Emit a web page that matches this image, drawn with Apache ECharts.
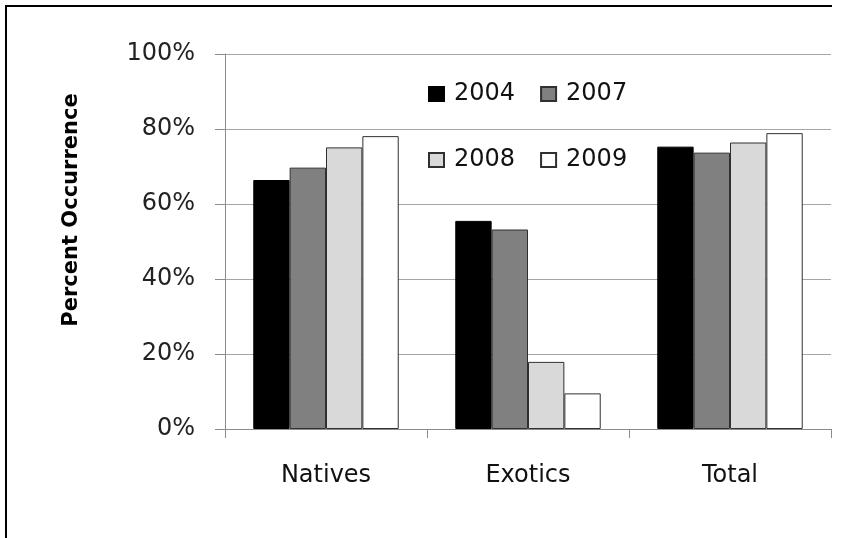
<!DOCTYPE html>
<html><head><meta charset="utf-8">
<script src="https://cdn.jsdelivr.net/npm/echarts@6/dist/echarts.min.js"></script>
<style>html,body{margin:0;padding:0;background:#fff}#c{width:849px;height:538px}</style>
</head><body><div id="c"></div>
<script>
const categories = ['Natives', 'Exotics', 'Total'];
const years = ['2004', '2007', '2008', '2009'];
const v2004 = [66.4, 55.5, 75.3];
const v2007 = [69.7, 53.2, 73.7];
const v2008 = [75.1, 17.9, 76.4];
const v2009 = [78.1, 9.5, 78.9];
const yTicks = [0, 20, 40, 60, 80, 100];
const yTitle = 'Percent Occurrence';
const colors = ['#000000', '#808080', '#d9d9d9', '#ffffff'];
const values = [v2004, v2007, v2008, v2009];
const FONT = 'DejaVu Sans';

const chart = echarts.init(document.getElementById('c'), null, {renderer: 'canvas'});
const series = years.map((y, i) => ({
  name: y, type: 'bar', data: values[i],
  barGap: '0%', barCategoryGap: '28%',
  itemStyle: {color: colors[i], borderColor: i === 0 ? '#000' : '#303030', borderWidth: 1}
}));
const legendCommon = {
  left: 423, itemWidth: 15, itemHeight: 14, itemGap: 25, icon: 'rect',
  textStyle: {fontFamily: FONT, fontSize: 24, color: '#111', padding: [0, 0, 0, 5]},
  selectedMode: false
};
chart.setOption({
  animation: false,
  textStyle: {fontFamily: FONT},
  grid: {left: 225, right: 18, top: 54, bottom: 109},
  legend: [
    Object.assign({}, legendCommon, {top: 77, data: [years[0], years[1]]}),
    Object.assign({}, legendCommon, {top: 143, data: [years[2], years[3]]})
  ],
  xAxis: {
    type: 'category', data: categories,
    axisLine: {lineStyle: {color: '#8c8c8c', width: 1}},
    axisTick: {show: true, length: 9, lineStyle: {color: '#8c8c8c'}},
    axisLabel: {fontFamily: FONT, fontSize: 24, color: '#111', margin: 35}
  },
  yAxis: {
    type: 'value', min: yTicks[0], max: yTicks[yTicks.length - 1], interval: 20,
    axisLine: {show: true, lineStyle: {color: '#8c8c8c'}},
    axisTick: {show: true, inside: false, length: 10, lineStyle: {color: '#8c8c8c'}},
    axisLabel: {fontFamily: FONT, fontSize: 24, color: '#222', margin: 30, formatter: v => v + '%'},
    splitLine: {lineStyle: {color: '#a6a6a6', width: 1}}
  },
  series: series,
  graphic: [
    {type: 'line', shape: {x1: 6, y1: 6, x2: 832, y2: 6}, style: {stroke: '#000', lineWidth: 2}},
    {type: 'line', shape: {x1: 6, y1: 5, x2: 6, y2: 538}, style: {stroke: '#000', lineWidth: 2}},
    {type: 'text', x: 72, y: 210, rotation: Math.PI / 2,
     style: {text: yTitle, font: 'bold 21px "DejaVu Sans"', fill: '#000', align: 'center', verticalAlign: 'middle'}}
  ]
});
</script></body></html>
